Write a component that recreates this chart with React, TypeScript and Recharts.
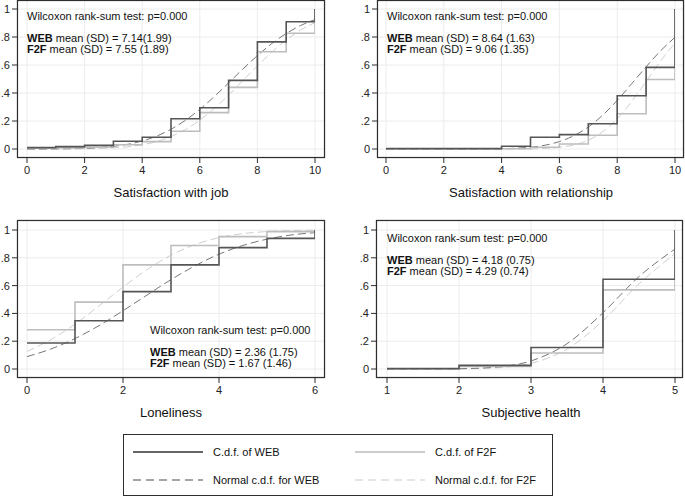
import { LineChart, Line, XAxis, YAxis, CartesianGrid } from 'recharts'

// empirical c.d.f. (step) values at each category + normal c.d.f. read at half steps
const jobX = [0, 1, 2, 3, 4, 5, 6, 7, 8, 9, 10]
const jobWeb = [0.01, 0.017, 0.026, 0.055, 0.084, 0.216, 0.295, 0.49, 0.765, 0.909, 1]
const jobF2f = [0.005, 0.008, 0.012, 0.03, 0.053, 0.127, 0.26, 0.44, 0.695, 0.827, 1]
const jobNormX = [0, 0.5, 1, 1.5, 2, 2.5, 3, 3.5, 4, 4.5, 5, 5.5, 6, 6.5, 7, 7.5, 8, 8.5, 9, 9.5, 10]
const jobNormWeb = [0, 0, 0.001, 0.002, 0.005, 0.01, 0.019, 0.034, 0.057, 0.092, 0.141, 0.205, 0.283, 0.374, 0.472, 0.572, 0.667, 0.753, 0.825, 0.882, 0.925]
const jobNormF2f = [0, 0, 0, 0.001, 0.002, 0.004, 0.008, 0.016, 0.03, 0.053, 0.089, 0.139, 0.206, 0.289, 0.385, 0.49, 0.594, 0.692, 0.779, 0.849, 0.903]

const relX = jobX
const relWeb = [0.003, 0.003, 0.003, 0.003, 0.02, 0.084, 0.103, 0.18, 0.38, 0.583, 1]
const relF2f = [0.002, 0.002, 0.002, 0.002, 0.002, 0.013, 0.036, 0.098, 0.252, 0.496, 1]
const relNormX = jobNormX
const relNormWeb = [0, 0, 0, 0, 0, 0, 0, 0.001, 0.002, 0.006, 0.013, 0.027, 0.053, 0.095, 0.157, 0.242, 0.347, 0.466, 0.587, 0.701, 0.798]
const relNormF2f = [0, 0, 0, 0, 0, 0, 0, 0, 0, 0, 0.001, 0.004, 0.012, 0.029, 0.063, 0.124, 0.216, 0.339, 0.482, 0.628, 0.757]

const loneX = [0, 1, 2, 3, 4, 5, 6]
const loneWeb = [0.187, 0.347, 0.557, 0.749, 0.873, 0.94, 1]
const loneF2f = [0.282, 0.481, 0.749, 0.888, 0.952, 0.988, 1]
const loneNormX = [0, 0.5, 1, 1.5, 2, 2.5, 3, 3.5, 4, 4.5, 5, 5.5, 6]
const loneNormWeb = [0.089, 0.144, 0.219, 0.312, 0.419, 0.532, 0.643, 0.742, 0.826, 0.889, 0.934, 0.964, 0.981]
const loneNormF2f = [0.126, 0.212, 0.323, 0.454, 0.589, 0.715, 0.819, 0.895, 0.945, 0.974, 0.989, 0.996, 0.998]

const healthX = [1, 2, 3, 4, 5]
const healthWeb = [0.003, 0.026, 0.155, 0.646, 1]
const healthF2f = [0.002, 0.019, 0.115, 0.569, 1]
const healthNormX = [1, 1.5, 2, 2.5, 3, 3.5, 4, 4.5, 5]
const healthNormWeb = [0, 0, 0.002, 0.013, 0.058, 0.182, 0.405, 0.665, 0.863]
const healthNormF2f = [0, 0, 0.001, 0.008, 0.041, 0.143, 0.348, 0.612, 0.831]

const yTicks = [0, 0.2, 0.4, 0.6, 0.8, 1]

const FONT = '"Liberation Sans", Arial, Helvetica, sans-serif'
const TICK = { fontSize: 11, fill: '#222', fontFamily: FONT }
const FRAME = '#2e2e2e'
const C_WEB = '#555555'
const C_F2F = '#bdbdbd'
const C_NWEB = '#777777'
const C_NF2F = '#cfcfcf'
const X_AXIS_H = 40

const zip = (xs: number[], ys: number[]) => xs.map((x, i) => ({ x, y: ys[i] }))
const fmtY = (v: number) => (v === 0 ? '0' : v === 1 ? '1' : String(v).replace('0.', '.'))

type PanelProps = {
  left: number
  top: number
  width: number
  height: number
  yAxisW: number
  marginRight: number
  padX: { left: number; right: number }
  padY: { top: number; bottom: number }
  domain: [number, number]
  xTicks: number[]
  stepX: number[]
  web: number[]
  f2f: number[]
  normX: number[]
  normWeb: number[]
  normF2f: number[]
}

function Panel(p: PanelProps) {
  // frame round the plot area, in the chart's own pixel space
  const fl = p.yAxisW
  const ft = 1
  const fw = p.width - p.yAxisW - p.marginRight
  const fh = p.height - 1 - X_AXIS_H
  return (
    <div style={{ position: 'absolute', left: p.left, top: p.top, width: p.width, height: p.height }}>
      <LineChart width={p.width} height={p.height} margin={{ top: 1, right: p.marginRight, left: 0, bottom: 0 }}>
        <CartesianGrid stroke="#ececec" />
        <XAxis
          dataKey="x" type="number" domain={p.domain} ticks={p.xTicks} padding={p.padX}
          tick={TICK} tickSize={5} tickMargin={3} height={X_AXIS_H}
          stroke={FRAME} axisLine={false} allowDataOverflow
        />
        <YAxis
          type="number" domain={[0, 1]} ticks={yTicks} padding={p.padY} tickFormatter={fmtY}
          tick={TICK} tickSize={5} tickMargin={2} width={p.yAxisW} stroke={FRAME} axisLine={false}
        />
        <Line data={zip(p.normX, p.normF2f)} dataKey="y" type="monotone" stroke={C_NF2F} strokeWidth={1}
          strokeDasharray="8 4" dot={false} isAnimationActive={false} />
        <Line data={zip(p.normX, p.normWeb)} dataKey="y" type="monotone" stroke={C_NWEB} strokeWidth={1}
          strokeDasharray="8 4" dot={false} isAnimationActive={false} />
        <Line data={zip(p.stepX, p.f2f)} dataKey="y" type="stepAfter" stroke={C_F2F} strokeWidth={1.6}
          dot={false} isAnimationActive={false} />
        <Line data={zip(p.stepX, p.web)} dataKey="y" type="stepAfter" stroke={C_WEB} strokeWidth={1.6}
          dot={false} isAnimationActive={false} />
      </LineChart>
      <svg width={p.width} height={p.height} style={{ position: 'absolute', left: 0, top: 0, pointerEvents: 'none', zIndex: 2 }}>
        <rect x={fl + 0.5} y={ft + 0.5} width={fw - 1} height={fh - 1} fill="none" stroke={FRAME} strokeWidth={1.2} />
      </svg>
    </div>
  )
}

function Note({ left, top, lines }: { left: number; top: number; lines: [string, string, string] }) {
  const s = { position: 'absolute' as const, left, fontSize: 11, lineHeight: '12px', whiteSpace: 'nowrap' as const, color: '#111' }
  return (
    <>
      <div style={{ ...s, top }}>{lines[0]}</div>
      <div style={{ ...s, top: top + 22 }}><b>WEB</b> mean (SD) = {lines[1]}</div>
      <div style={{ ...s, top: top + 33 }}><b>F2F</b> mean (SD) = {lines[2]}</div>
    </>
  )
}

function Title({ cx, cy, text }: { cx: number; cy: number; text: string }) {
  return (
    <div style={{ position: 'absolute', left: cx - 150, top: cy - 8, width: 300, textAlign: 'center', fontSize: 13, lineHeight: '16px', color: '#111' }}>
      {text}
    </div>
  )
}

function LegendItem({ x, y, color, dash, w, label }: { x: number; y: number; color: string; dash?: string; w: number; label: string }) {
  return (
    <>
      <svg style={{ position: 'absolute', left: x, top: y - 3 }} width={70} height={6}>
        <line x1={0} y1={3} x2={70} y2={3} stroke={color} strokeWidth={w} strokeDasharray={dash} />
      </svg>
      <div style={{ position: 'absolute', left: x + 80, top: y - 7, fontSize: 11, lineHeight: '14px', whiteSpace: 'nowrap', color: '#111' }}>
        {label}
      </div>
    </>
  )
}

export default function App() {
  return (
    <div style={{ position: 'absolute', left: 0, top: 0, width: 685, height: 496, background: '#fff', fontFamily: FONT, overflow: 'hidden' }}>
      <Panel left={0} top={-1} width={340} height={199} yAxisW={17} marginRight={15}
        padX={{ left: 10, right: 10 }} padY={{ top: 9, bottom: 9 }} domain={[0, 10]} xTicks={[0, 2, 4, 6, 8, 10]}
        stepX={jobX} web={jobWeb} f2f={jobF2f} normX={jobNormX} normWeb={jobNormWeb} normF2f={jobNormF2f} />
      <Panel left={340} top={-1} width={345} height={199} yAxisW={37} marginRight={1}
        padX={{ left: 9, right: 9 }} padY={{ top: 9, bottom: 9 }} domain={[0, 10]} xTicks={[0, 2, 4, 6, 8, 10]}
        stepX={relX} web={relWeb} f2f={relF2f} normX={relNormX} normWeb={relNormWeb} normF2f={relNormF2f} />
      <Panel left={0} top={219} width={340} height={199} yAxisW={17} marginRight={15}
        padX={{ left: 10, right: 10 }} padY={{ top: 10, bottom: 9 }} domain={[0, 6]} xTicks={[0, 2, 4, 6]}
        stepX={loneX} web={loneWeb} f2f={loneF2f} normX={loneNormX} normWeb={loneNormWeb} normF2f={loneNormF2f} />
      <Panel left={340} top={219} width={345} height={199} yAxisW={36} marginRight={2}
        padX={{ left: 11, right: 8 }} padY={{ top: 10, bottom: 9 }} domain={[1, 5]} xTicks={[1, 2, 3, 4, 5]}
        stepX={healthX} web={healthWeb} f2f={healthF2f} normX={healthNormX} normWeb={healthNormWeb} normF2f={healthNormF2f} />

      <Note left={27} top={10} lines={['Wilcoxon rank-sum test: p=0.000', '7.14(1.99)', '7.55 (1.89)']} />
      <Note left={387} top={10} lines={['Wilcoxon rank-sum test: p=0.000', '8.64 (1.63)', '9.06 (1.35)']} />
      <Note left={150} top={324} lines={['Wilcoxon rank-sum test: p=0.000', '2.36 (1.75)', '1.67 (1.46)']} />
      <Note left={387} top={232} lines={['Wilcoxon rank-sum test: p=0.000', '4.18 (0.75)', '4.29 (0.74)']} />

      <Title cx={171} cy={193} text="Satisfaction with job" />
      <Title cx={531} cy={193} text="Satisfaction with relationship" />
      <Title cx={171} cy={413} text="Loneliness" />
      <Title cx={531} cy={413} text="Subjective health" />

      <div style={{ position: 'absolute', left: 123, top: 434, width: 430, height: 62, border: `1px solid ${FRAME}`, boxSizing: 'border-box' }} />
      <LegendItem x={133} y={452} color="#333" w={1.5} label="C.d.f. of WEB" />
      <LegendItem x={355} y={452} color="#bbb" w={1.5} label="C.d.f. of F2F" />
      <LegendItem x={133} y={480} color="#888" w={1.3} dash="8 5" label="Normal c.d.f. for WEB" />
      <LegendItem x={355} y={480} color="#ddd" w={1.3} dash="8 5" label="Normal c.d.f. for F2F" />
    </div>
  )
}
